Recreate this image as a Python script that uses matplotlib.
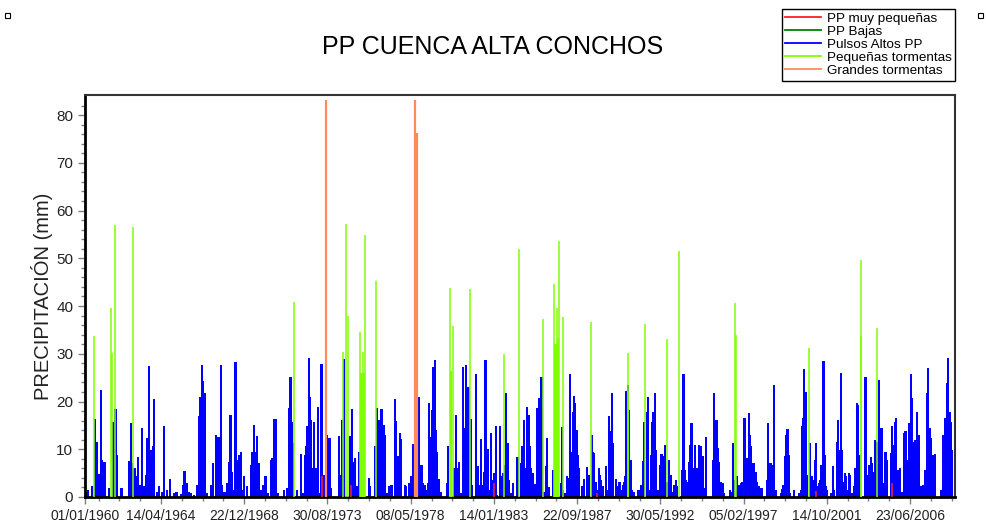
import datetime as dt
import matplotlib
matplotlib.use("Agg")
import matplotlib.pyplot as plt
from matplotlib.lines import Line2D
from matplotlib.patches import Rectangle

plt.rcParams['font.family'] = ['Liberation Sans', 'DejaVu Sans']

# ---------------- data (decimal year, mm) ----------------
title = "PP CUENCA ALTA CONCHOS"
y_label = "PRECIPITACIÓN (mm)"
series_names = ["PP muy pequeñas", "PP Bajas", "Pulsos Altos PP",
                "Pequeñas tormentas", "Grandes tormentas"]
tick_dates = ["01/01/1960", "14/04/1964", "22/12/1968", "30/08/1973", "08/05/1978",
              "14/01/1983", "22/09/1987", "30/05/1992", "05/02/1997", "14/10/2001",
              "23/06/2006"]
x_start, x_end = 1960.0, 2009.01

pulsos_1960_1972 = [
    (1960.03, 1.1), (1960.17, 1.5), (1960.41, 2.2), (1960.56, 16.4), (1960.65, 11.6), (1960.79, 4.8),
    (1960.88, 22.4), (1960.95, 7.8), (1961.03, 6.7), (1961.10, 7.3), (1961.37, 1.8), (1961.57, 15.8),
    (1961.72, 18.4), (1961.82, 8.8), (1962.06, 1.8), (1962.46, 7.6), (1962.57, 15.5), (1962.66, 7.1),
    (1962.79, 6.0), (1962.89, 4.4), (1962.98, 8.3), (1963.13, 2.5), (1963.23, 14.4), (1963.34, 2.3),
    (1963.45, 4.6), (1963.51, 12.3), (1963.60, 27.5), (1963.70, 9.9), (1963.81, 10.6), (1963.88, 20.5),
    (1964.07, 1.1), (1964.17, 2.2), (1964.32, 1.1), (1964.45, 14.9), (1964.63, 1.5), (1964.79, 3.7),
    (1965.01, 0.8), (1965.16, 1.1), (1965.39, 0.6), (1965.50, 2.5), (1965.61, 5.5), (1965.72, 2.9),
    (1965.87, 1.1), (1965.99, 0.9), (1966.14, 0.4), (1966.32, 2.5), (1966.42, 16.9), (1966.51, 20.9),
    (1966.61, 27.7), (1966.66, 24.2), (1966.74, 21.7), (1966.85, 0.8), (1967.08, 2.5), (1967.23, 7.1),
    (1967.36, 13.0), (1967.45, 12.5), (1967.55, 12.5), (1967.64, 27.7), (1967.73, 2.5), (1967.86, 1.1),
    (1968.01, 2.9), (1968.11, 7.4), (1968.20, 17.2), (1968.30, 5.3), (1968.39, 1.5), (1968.48, 28.2),
    (1968.58, 7.8), (1968.67, 8.8), (1968.77, 9.5), (1968.86, 1.5), (1968.95, 4.4), (1969.14, 2.2),
    (1969.33, 6.7), (1969.42, 9.5), (1969.52, 15.1), (1969.61, 9.5), (1969.71, 12.7), (1969.80, 7.1),
    (1969.93, 1.5), (1970.02, 2.5), (1970.17, 4.3), (1970.31, 0.8), (1970.46, 7.8), (1970.55, 8.1),
    (1970.64, 16.4), (1970.74, 16.4), (1970.87, 0.8), (1971.21, 1.5), (1971.40, 1.8), (1971.49, 18.6),
    (1971.58, 25.2), (1971.68, 15.8), (1971.73, 11.3), (1971.96, 1.5), (1972.15, 9.0), (1972.26, 0.8),
]
pulsos_1972_1984 = [
    (1972.38, 8.8), (1972.45, 10.6), (1972.53, 14.9), (1972.60, 29.1), (1972.68, 21.0), (1972.73, 16.2),
    (1972.81, 6.0), (1972.90, 15.8), (1973.03, 6.0), (1973.11, 18.8), (1973.18, 0.8), (1973.32, 27.9),
    (1973.37, 2.2), (1973.43, 4.6), (1973.62, 13.0), (1973.77, 12.3), (1973.84, 1.8), (1974.31, 12.8),
    (1974.37, 4.6), (1974.50, 16.2), (1974.61, 29.0), (1974.91, 12.8), (1975.03, 18.4), (1975.10, 7.4),
    (1975.16, 1.1), (1975.23, 8.1), (1975.34, 2.2), (1975.46, 9.4), (1976.00, 3.9), (1976.06, 2.2),
    (1976.32, 10.6), (1976.47, 18.6), (1976.57, 16.2), (1976.62, 6.7), (1976.70, 18.4), (1976.77, 6.7),
    (1976.85, 15.1), (1976.90, 13.0), (1977.00, 0.8), (1977.13, 2.2), (1977.26, 2.5), (1977.45, 20.5),
    (1977.52, 16.0), (1977.60, 8.5), (1977.69, 8.5), (1977.75, 13.4), (1977.82, 12.1), (1978.01, 2.5),
    (1978.09, 2.2), (1978.27, 3.0), (1978.39, 4.3), (1978.46, 11.0), (1978.65, 13.7), (1978.72, 2.9),
    (1978.80, 20.9), (1978.87, 0.8), (1978.95, 6.7), (1979.03, 2.9), (1979.14, 2.5), (1979.21, 1.5),
    (1979.33, 2.9), (1979.40, 19.7), (1979.48, 12.5), (1979.55, 18.3), (1979.63, 27.3), (1979.70, 28.7),
    (1979.78, 14.1), (1979.85, 9.5), (1979.93, 3.7), (1980.04, 1.1), (1980.38, 2.9), (1980.45, 10.6),
    (1980.79, 6.0), (1980.88, 17.2), (1980.94, 2.2), (1981.02, 6.0), (1981.09, 7.4), (1981.20, 0.8),
    (1981.30, 27.3), (1981.35, 14.4), (1981.45, 27.7), (1981.54, 6.0), (1981.60, 23.0), (1981.73, 16.3),
    (1981.80, 2.5), (1982.03, 25.8), (1982.11, 6.4), (1982.20, 2.5), (1982.29, 12.1), (1982.39, 2.5),
    (1982.48, 5.3), (1982.56, 28.7), (1982.63, 8.6), (1982.71, 10.0), (1982.78, 1.5), (1982.89, 13.4),
    (1982.97, 3.6), (1983.04, 5.0), (1983.14, 14.8), (1983.23, 0.4), (1983.36, 14.8), (1983.44, 4.3),
    (1983.53, 5.0), (1983.65, 6.7), (1983.72, 21.7), (1983.80, 11.3), (1983.87, 3.6), (1983.98, 0.8),
    (1984.10, 3.0), (1984.36, 8.3), (1984.55, 7.1), (1984.64, 10.6),
]
pulsos_1984_1997 = [
    (1984.75, 16.2), (1984.84, 6.0), (1984.92, 18.8), (1984.99, 17.2), (1985.07, 10.6), (1985.14, 6.0),
    (1985.24, 5.0), (1985.33, 2.7), (1985.48, 18.6), (1985.56, 20.7), (1985.63, 19.3), (1985.71, 25.2),
    (1985.89, 1.1), (1985.97, 6.4), (1986.04, 12.3), (1986.12, 2.0), (1986.35, 5.7), (1986.80, 3.0),
    (1986.85, 14.6), (1986.91, 1.5), (1987.06, 0.8), (1987.17, 4.3), (1987.25, 3.9), (1987.32, 25.8),
    (1987.40, 9.5), (1987.47, 17.9), (1987.55, 21.2), (1987.62, 19.7), (1987.70, 14.1), (1987.77, 8.8),
    (1987.85, 6.0), (1988.02, 2.3), (1988.11, 3.7), (1988.26, 6.2), (1988.34, 3.2), (1988.41, 4.6),
    (1988.54, 13.0), (1988.62, 9.5), (1988.69, 9.2), (1988.77, 3.2), (1988.86, 1.5), (1988.94, 6.0),
    (1989.01, 4.6), (1989.09, 3.6), (1989.16, 2.2), (1989.35, 6.4), (1989.42, 1.5), (1989.52, 16.9),
    (1989.59, 13.9), (1989.67, 21.7), (1989.74, 11.3), (1989.91, 3.7), (1989.99, 2.2), (1990.06, 3.2),
    (1990.14, 3.2), (1990.21, 1.5), (1990.29, 2.5), (1990.36, 3.2), (1990.44, 4.3), (1990.51, 22.3),
    (1990.59, 23.5), (1990.66, 18.3), (1990.74, 7.8), (1990.83, 1.5), (1990.93, 1.1), (1991.15, 1.5),
    (1991.23, 1.5), (1991.30, 2.5), (1991.42, 7.6), (1991.49, 15.8), (1991.64, 17.9), (1991.72, 21.0),
    (1991.79, 1.5), (1991.87, 8.8), (1991.94, 15.8), (1992.02, 17.9), (1992.09, 21.7), (1992.17, 9.9),
    (1992.24, 1.5), (1992.32, 1.5), (1992.39, 6.7), (1992.47, 9.0), (1992.54, 8.5), (1992.62, 6.7),
    (1992.69, 10.9), (1992.77, 3.2), (1992.92, 7.8), (1992.99, 4.6), (1993.09, 1.1), (1993.18, 2.5),
    (1993.29, 3.6), (1993.37, 2.2), (1993.63, 5.7), (1993.71, 25.8), (1993.78, 5.7), (1993.86, 3.6),
    (1993.93, 3.2), (1994.01, 7.4), (1994.08, 10.9), (1994.16, 15.6), (1994.23, 6.0), (1994.31, 6.0),
    (1994.38, 10.9), (1994.46, 6.0), (1994.53, 1.5), (1994.61, 10.9), (1994.68, 10.6), (1994.76, 6.0),
    (1994.83, 8.5), (1994.91, 1.8), (1994.98, 12.5), (1995.36, 7.8), (1995.43, 21.7), (1995.51, 7.8),
    (1995.58, 16.2), (1995.66, 10.2), (1995.73, 7.4), (1995.81, 3.2), (1995.92, 2.9), (1996.00, 0.8),
    (1996.34, 1.5), (1996.41, 1.1), (1996.49, 11.3), (1996.56, 3.6), (1996.75, 4.3), (1996.84, 2.5),
    (1996.94, 2.9), (1997.03, 3.2),
]
pulsos_1997_2009 = [
    (1997.15, 16.5), (1997.24, 2.9), (1997.32, 8.1), (1997.39, 17.6), (1997.47, 13.0), (1997.54, 10.6),
    (1997.62, 7.1), (1997.69, 7.1), (1997.77, 5.3), (1997.84, 3.2), (1997.92, 2.2), (1997.99, 2.2),
    (1998.11, 1.8), (1998.41, 3.6), (1998.48, 15.5), (1998.56, 7.1), (1998.63, 7.1), (1998.75, 6.7),
    (1998.82, 23.5), (1998.90, 1.5), (1999.20, 0.8), (1999.27, 1.6), (1999.35, 2.5), (1999.42, 8.5),
    (1999.50, 13.0), (1999.57, 14.3), (1999.65, 8.8), (1999.72, 0.8), (1999.95, 1.5), (2000.25, 0.8),
    (2000.32, 1.5), (2000.40, 14.8), (2000.47, 16.5), (2000.51, 26.8), (2000.59, 21.9), (2000.66, 4.6),
    (2000.83, 11.3), (2000.89, 2.2), (2000.96, 4.4), (2001.04, 3.6), (2001.11, 7.8), (2001.19, 11.3),
    (2001.26, 2.2), (2001.34, 2.9), (2001.41, 3.6), (2001.49, 6.7), (2001.56, 13.0), (2001.60, 28.4),
    (2001.67, 8.8), (2001.75, 2.2), (2001.82, 1.5), (2002.05, 0.8), (2002.13, 6.4), (2002.20, 1.5),
    (2002.35, 11.6), (2002.43, 16.2), (2002.50, 9.9), (2002.58, 25.9), (2002.65, 9.9), (2002.73, 3.2),
    (2002.80, 5.0), (2002.88, 4.3), (2002.95, 1.5), (2003.03, 5.0), (2003.10, 4.6), (2003.18, 0.8),
    (2003.33, 2.2), (2003.40, 6.0), (2003.48, 19.7), (2003.55, 19.3), (2003.63, 8.8), (2003.97, 25.2),
    (2004.04, 3.6), (2004.12, 4.6), (2004.19, 6.7), (2004.27, 8.3), (2004.34, 7.1), (2004.42, 5.3),
    (2004.49, 12.0), (2004.64, 11.6), (2004.72, 24.5), (2004.79, 9.9), (2004.87, 14.4), (2004.94, 2.5),
    (2005.02, 2.9), (2005.09, 9.5), (2005.17, 7.8), (2005.39, 9.2), (2005.47, 14.8), (2005.54, 10.9),
    (2005.62, 15.8), (2005.69, 16.5), (2005.77, 5.7), (2005.84, 1.5), (2005.92, 6.0), (2005.99, 1.1),
    (2006.14, 13.4), (2006.22, 13.9), (2006.29, 4.6), (2006.37, 7.8), (2006.44, 15.5), (2006.52, 25.8),
    (2006.59, 20.7), (2006.67, 11.6), (2006.74, 12.0), (2006.82, 12.0), (2006.89, 17.9), (2006.97, 13.0),
    (2007.05, 1.5), (2007.12, 2.2), (2007.20, 2.5), (2007.27, 2.2), (2007.35, 5.7), (2007.42, 21.7),
    (2007.50, 27.0), (2007.57, 14.4), (2007.65, 12.3), (2007.72, 6.7), (2007.80, 8.8), (2007.87, 9.0),
    (2008.25, 1.5), (2008.32, 13.0), (2008.40, 2.2), (2008.47, 16.5), (2008.55, 23.8), (2008.62, 29.1),
    (2008.70, 17.9), (2008.77, 15.8), (2008.85, 9.9),
]
pequenas_tormentas = [
    (1960.51, 33.7), (1961.46, 39.5), (1961.54, 30.1), (1961.69, 57.0), (1962.72, 56.5), (1971.77, 40.8),
    (1974.55, 30.4), (1974.70, 57.1), (1974.80, 38.0), (1975.51, 34.5), (1975.64, 30.4), (1975.76, 54.9),
    (1976.39, 45.3), (1980.56, 43.8), (1980.71, 35.8), (1981.67, 43.6), (1983.59, 29.9), (1984.45, 51.9),
    (1985.78, 37.3), (1986.42, 44.6), (1986.57, 39.5), (1986.65, 33.2), (1986.72, 53.6), (1986.94, 37.8),
    (1988.49, 36.6), (1990.59, 22.1), (1990.61, 30.2), (1991.57, 36.2), (1992.81, 33.0), (1993.46, 51.6),
    (1996.62, 40.6), (1996.66, 33.9), (2000.79, 31.3), (2003.70, 49.6), (2003.74, 33.7), (2004.60, 35.5),
]
pequenas_tormentas_seguidas = [
    (1975.55, 26.0), (1975.60, 26.0), (1975.68, 26.0), (1975.72, 26.0), (1980.60, 26.4), (1980.66, 26.4),
    (1986.46, 32.0), (1986.51, 32.0), (1986.55, 32.0), (1986.61, 32.0), (1986.68, 32.0),
]
grandes_tormentas = [(1973.57, 83.1), (1978.60, 83.1), (1978.73, 76.2)]
pp_muy_pequenas = [(1973.37, 4.5), (1974.97, 2.5), (1983.05, 3.0), (1988.83, 0.8),
                   (2001.17, 1.2), (2005.47, 2.9)]

colors = {"PP muy pequeñas": "#FF2020", "PP Bajas": "#008000", "Pulsos Altos PP": "#0000FF",
          "Pequeñas tormentas": "#80FF00", "Grandes tormentas": "#FF8A5C"}


def dec_year(s):
    d = dt.datetime.strptime(s, "%d/%m/%Y")
    start = dt.datetime(d.year, 1, 1)
    length = (dt.datetime(d.year + 1, 1, 1) - start).days
    return d.year + (d - start).days / length


fig = plt.figure(figsize=(9.86, 5.27), dpi=100)
ax = fig.add_axes([85 / 986, 30 / 527, 870 / 986, 402 / 527])

pulsos = pulsos_1960_1972 + pulsos_1972_1984 + pulsos_1984_1997 + pulsos_1997_2009
ax.bar([p[0] for p in pulsos], [p[1] for p in pulsos], width=0.125,
       color=colors["Pulsos Altos PP"], linewidth=0, zorder=2)

ax.bar([p[0] for p in pequenas_tormentas_seguidas], [p[1] for p in pequenas_tormentas_seguidas],
       width=0.07, color=colors["Pequeñas tormentas"], linewidth=0, zorder=3)
ax.vlines([p[0] for p in pequenas_tormentas], 0, [p[1] for p in pequenas_tormentas],
          color=colors["Pequeñas tormentas"], linewidth=1.1, zorder=4)
ax.vlines([p[0] for p in grandes_tormentas], 0, [p[1] for p in grandes_tormentas],
          color=colors["Grandes tormentas"], linewidth=1.6, zorder=4)
ax.vlines([p[0] for p in pp_muy_pequenas], 0, [p[1] for p in pp_muy_pequenas],
          color=colors["PP muy pequeñas"], linewidth=1.1, zorder=5)

ax.set_xlim(x_start, x_end)
ax.set_ylim(0, 84.2)

major = [dec_year(s) for s in tick_dates]
ax.set_xticks(major)
ax.set_xticklabels(tick_dates, fontsize=10, color="#222222")
step = (major[2] - major[1]) / 4
minor = []
t = major[1] - step
while t > x_start + 0.05:
    minor.append(t)
    t -= step
t = major[1] + step
while t < x_end:
    if all(abs(t - m) > 0.1 for m in major):
        minor.append(t)
    t += step
ax.set_xticks(minor, minor=True)

ax.set_yticks(range(0, 81, 10))
ax.set_yticks(range(0, 84, 2), minor=True)
ax.tick_params(axis="y", labelsize=11, labelcolor="#222222")
ax.tick_params(which="major", direction="out", length=5, color="#808080", width=1)
ax.tick_params(which="minor", direction="out", length=3, color="#808080", width=1)

for side in ("left", "bottom"):
    ax.spines[side].set_linewidth(2.0)
    ax.spines[side].set_color("black")
for side in ("top", "right"):
    ax.spines[side].set_linewidth(1.5)
    ax.spines[side].set_color("#333333")

ax.set_ylabel(y_label, fontsize=14.5, color="#222222", labelpad=2)
fig.text(493 / 986, 1 - 47 / 527, title, fontsize=18, ha="center", va="center", color="black")

handles = [Line2D([], [], color=colors[n], linewidth=1.3) for n in series_names]
leg = fig.legend(handles, series_names, loc="upper right",
                 bbox_to_anchor=(955 / 986, 1 - 9 / 527), bbox_transform=fig.transFigure,
                 fontsize=9.7, frameon=True, fancybox=False, framealpha=1, edgecolor="black",
                 borderpad=0.25, labelspacing=0.05, handlelength=2.7, handletextpad=0.4,
                 borderaxespad=0)
leg.get_frame().set_linewidth(1.0)

for px in (5, 978):
    fig.add_artist(Rectangle((px / 986, 1 - 18 / 527), 5 / 986, 5 / 527, transform=fig.transFigure,
                             fill=False, edgecolor="black", linewidth=0.8))

fig.savefig("out.png", dpi=100)
